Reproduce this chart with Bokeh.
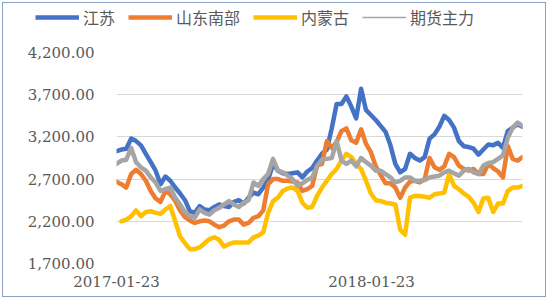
import numpy as np
import pandas as pd
from bokeh.plotting import figure
from bokeh.layouts import column
from bokeh.models import (Legend, LegendItem, FixedTicker, NumeralTickFormatter,
                          ColumnDataSource, DatetimeTickFormatter, Range1d)
from bokeh.embed import file_html
from bokeh.resources import INLINE

# ---- data (weekly) ----
dates = pd.date_range("2017-01-23", periods=84, freq="7D")

jiangsu = [3030, 3050, 3060, 3180, 3150, 3100, 3000, 2900, 2800, 2640,
           2730, 2680, 2600, 2530, 2450, 2320, 2300, 2380, 2340, 2330,
           2370, 2400, 2380, 2370, 2430, 2450, 2410, 2480, 2540, 2520,
           2600, 2690, 2880, 2800, 2770, 2760, 2770, 2780, 2720, 2790,
           2830, 2920, 3000, 3050, 3300, 3590, 3590, 3680, 3560, 3420,
           3770, 3520, 3460, 3400, 3330, 3260, 3100, 2880, 2780, 2820,
           3000, 2950, 2920, 2960, 3180, 3230, 3320, 3450, 3400, 3310,
           3150, 3090, 3080, 3060, 2990, 3050, 3110, 3100, 3130, 3070,
           3270, 3310, 3350, 3320]

shandong = [2670, 2640, 2600, 2760, 2810, 2760, 2680, 2560, 2470, 2430,
            2560, 2520, 2440, 2330, 2250, 2210, 2180, 2200, 2210, 2200,
            2160, 2130, 2150, 2200, 2220, 2220, 2160, 2180, 2240, 2260,
            2330, 2640, 2700, 2700, 2680, 2680, 2670, 2660, 2560, 2580,
            2620, 2860, 2880, 3150, 3070, 3140, 3270, 3300, 3160, 3130,
            3290, 3120, 3020, 2850, 2750, 2650, 2650, 2600, 2480, 2600,
            2670, 2680, 2660, 2700, 2950, 2840, 2810, 2850, 3000, 2960,
            2860, 2820, 2800, 2820, 2760, 2760, 2880, 2830, 2790, 2720,
            3090, 2940, 2920, 2960]

neimenggu = [np.nan, 2200, 2220, 2260, 2330, 2260, 2310, 2320, 2300, 2290,
             2340, 2380, 2200, 2020, 1940, 1870, 1870, 1890, 1940, 1990,
             2010, 1980, 1900, 1930, 1950, 1950, 1950, 1950, 2010, 2030,
             2070, 2300, 2440, 2480, 2560, 2590, 2600, 2560, 2420, 2360,
             2370, 2500, 2600, 2680, 2760, 2820, 2920, 3000, 2960, 2880,
             2820, 2680, 2530, 2450, 2440, 2420, 2410, 2400, 2100, 2040,
             2480, 2500, 2500, 2490, 2480, 2520, 2530, 2540, 2760, 2620,
             2580, 2530, 2490, 2420, 2310, 2470, 2480, 2310, 2410, 2410,
             2560, 2600, 2600, 2620]

futures = [2880, 2920, 2930, 3070, 2900, 2840, 2800, 2720, 2660, 2560,
           2580, 2600, 2480, 2400, 2310, 2260, 2240, 2340, 2300, 2280,
           2330, 2360, 2400, 2440, 2400, 2370, 2420, 2450, 2660, 2620,
           2700, 2760, 2940, 2800, 2780, 2740, 2700, 2620, 2650, 2690,
           2720, 2850, 2930, 2940, 2950, 3150, 2920, 2880, 2920, 2850,
           2950, 2900, 2860, 2800, 2800, 2760, 2720, 2660, 2680, 2720,
           2720, 2680, 2680, 2690, 2720, 2730, 2740, 2780, 2800, 2770,
           2740, 2800, 2820, 2780, 2760, 2860, 2890, 2900, 2940, 2980,
           3190, 3310, 3370, 3330]

series_names = ["江苏", "山东南部", "内蒙古", "期货主力"]
series_colors = ["#4472C4", "#ED7D31", "#FFC000", "#A5A5A5"]
legend_widths = [4.5, 4.5, 4.5, 1.5]
y_ticks = [1700, 2200, 2700, 3200, 3700, 4200]
x_tick_labels = ["2017-01-23", "2018-01-23"]

W = 542
LEG_H = 40

# ---- legend strip ----
lg = figure(width=W, height=LEG_H, output_backend="svg", toolbar_location=None,
            x_range=Range1d(0, 1), y_range=Range1d(0, 1),
            x_axis_location=None, y_axis_location=None,
            min_border_left=0, min_border_right=0, min_border_top=0, min_border_bottom=0)
lg.frame_align = False
lg.outline_line_color = None
lg.grid.visible = False
lg.background_fill_color = "white"
lg.border_fill_color = "white"
offscreen = ColumnDataSource(dict(x=[-5.0], y=[-5.0]))
leg_rs = [lg.line("x", "y", source=offscreen, line_color=c, line_width=w)
          for c, w in zip(series_colors, legend_widths)]
items = [LegendItem(label=n, renderers=[r]) for n, r in zip(series_names, leg_rs)]
legend = Legend(items=items, orientation="horizontal", location=(32, 14),
                glyph_width=44, glyph_height=20, label_standoff=4, spacing=13,
                padding=0, margin=0, border_line_color=None,
                background_fill_alpha=0,
                label_text_font="Noto Sans CJK SC", label_text_font_size="16px",
                label_text_color="#595959")
lg.add_layout(legend, "center")

# ---- main chart ----
p = figure(width=W, height=293 - LEG_H, output_backend="svg", toolbar_location=None,
           x_axis_type="datetime",
           x_range=Range1d(dates[0], dates[-1]),
           y_range=Range1d(y_ticks[0], y_ticks[-1]),
           min_border_left=113, min_border_right=23,
           min_border_top=49 - LEG_H, min_border_bottom=33)
p.frame_align = False
p.background_fill_color = "white"
p.border_fill_color = "white"
p.outline_line_color = None

src = ColumnDataSource(dict(x=dates, a=jiangsu, b=shandong, c=neimenggu, d=futures))
for col, color in zip(["a", "b", "c", "d"], series_colors):
    p.line("x", col, source=src, line_color=color, line_width=4.5,
           line_join="round", line_cap="round")

p.yaxis.ticker = FixedTicker(ticks=y_ticks)
p.yaxis.formatter = NumeralTickFormatter(format="0,0.00")
p.yaxis.axis_line_color = None
p.yaxis.major_tick_line_color = None
p.yaxis.minor_tick_line_color = None
p.yaxis.major_label_standoff = 16
p.yaxis.major_label_text_font = "DejaVu Serif"
p.yaxis.major_label_text_font_size = "15px"
p.yaxis.major_label_text_color = "#595959"

tick_ms = [pd.Timestamp(t).value // 10**6 for t in x_tick_labels]
p.xaxis.ticker = FixedTicker(ticks=tick_ms)
p.xaxis.formatter = DatetimeTickFormatter(days="%Y-%m-%d", months="%Y-%m-%d",
                                          years="%Y-%m-%d")
p.xaxis.axis_line_color = None
p.xaxis.major_tick_line_color = None
p.xaxis.minor_tick_line_color = None
p.xaxis.major_label_standoff = 6
p.xaxis.major_label_text_font = "DejaVu Serif"
p.xaxis.major_label_text_font_size = "15px"
p.xaxis.major_label_text_color = "#595959"

p.xgrid.grid_line_color = None
p.ygrid.ticker = FixedTicker(ticks=y_ticks)
p.ygrid.grid_line_color = "#d9d9d9"
p.ygrid.grid_line_width = 1

layout = column(lg, p, spacing=0)
layout.styles = {"border": "1px solid #8c9fc4", "margin-left": "2px", "margin-top": "2px"}

open("out.html", "w").write(file_html(layout, INLINE))
